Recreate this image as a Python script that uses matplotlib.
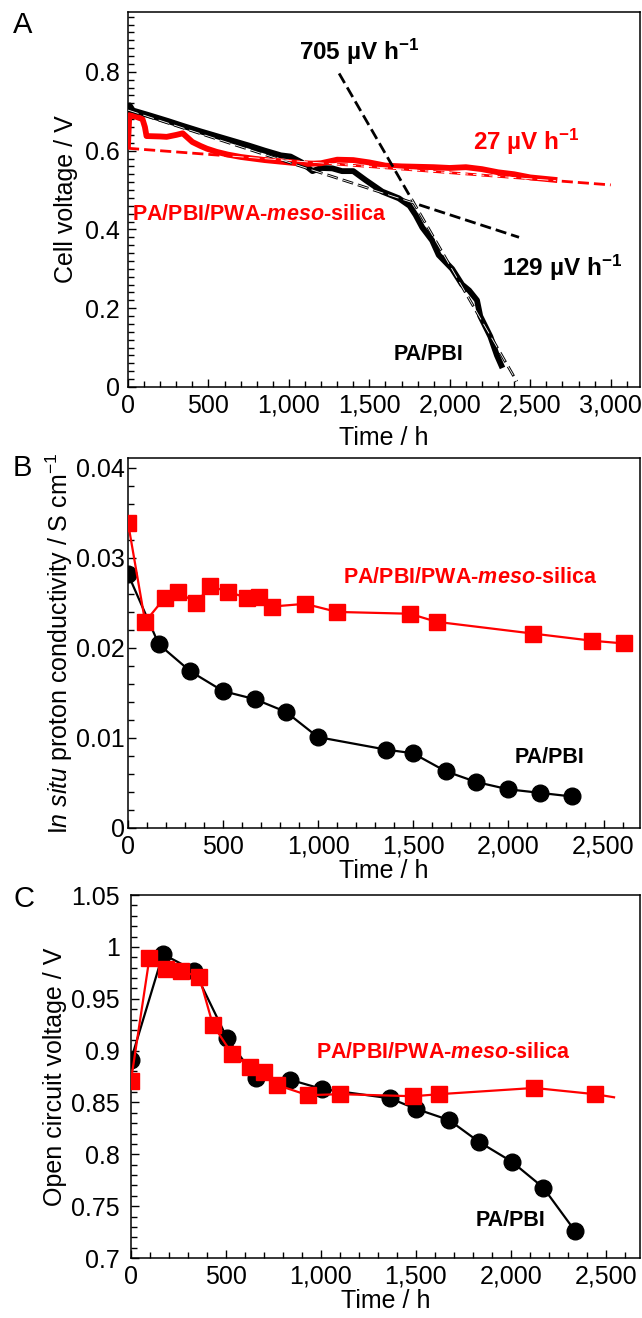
import numpy as np
import matplotlib
matplotlib.use("Agg")
import matplotlib.pyplot as plt
from matplotlib.ticker import MultipleLocator

plt.rcParams['font.family'] = ['Liberation Sans', 'DejaVu Sans']
plt.rcParams['mathtext.fontset'] = 'custom'
plt.rcParams['mathtext.rm'] = 'Liberation Sans'
plt.rcParams['mathtext.it'] = 'Liberation Sans:italic'
plt.rcParams['mathtext.bf'] = 'Liberation Sans:bold'
plt.rcParams['mathtext.bfit'] = 'Liberation Sans:bold:italic'

RED = '#ff0000'

# ---- panel A: cell voltage vs time
pbi_t = [0, 10, 30, 130, 250, 340, 450, 550, 650, 750, 850, 950, 1010, 1080,
         1146, 1200, 1270, 1330, 1400, 1477, 1580, 1683, 1750, 1787, 1829,
         1890, 1931, 2014, 2076, 2120, 2169, 2189, 2252, 2293, 2320]
pbi_v = [0.692, 0.715, 0.702, 0.690, 0.675, 0.663, 0.649, 0.637, 0.625, 0.613,
         0.600, 0.588, 0.585, 0.570, 0.548, 0.556, 0.555, 0.548, 0.548, 0.525,
         0.496, 0.479, 0.460, 0.437, 0.405, 0.372, 0.335, 0.300, 0.260, 0.245,
         0.220, 0.180, 0.128, 0.080, 0.055]

pwa_t = [0, 8, 50, 90, 105, 115, 200, 240, 300, 340, 400, 450, 490, 550, 620,
         700, 850, 1000, 1100, 1200, 1300, 1400, 1500, 1600, 1700, 1800, 1900,
         2000, 2100, 2200, 2300, 2400, 2500, 2600, 2650]
pwa_v = [0.615, 0.690, 0.686, 0.680, 0.660, 0.637, 0.636, 0.635, 0.640, 0.644,
         0.622, 0.612, 0.605, 0.597, 0.590, 0.584, 0.576, 0.570, 0.566, 0.568,
         0.577, 0.576, 0.570, 0.562, 0.560, 0.559, 0.558, 0.556, 0.558, 0.553,
         0.545, 0.540, 0.532, 0.528, 0.526]

# fitted lines (end points)
fit129_t = [0, 2430]
fit129_v = [0.703, 0.380]
fit705_t = [1312, 2416]
fit705_v = [0.796, 0.014]
fit27_t = [0, 3000]
fit27_v = [0.606, 0.513]

# ---- panel B: in situ proton conductivity
cond_pbi_t = [0, 162, 328, 500, 668, 830, 998, 1358, 1498, 1670, 1832, 1998, 2166, 2332]
cond_pbi = [0.0282, 0.0204, 0.0174, 0.0152, 0.0143, 0.0129, 0.0101, 0.0087,
            0.0083, 0.0063, 0.0051, 0.0043, 0.0039, 0.0035]
cond_pwa_t = [0, 90, 194, 263, 360, 431, 528, 623, 690, 759, 931, 1099, 1481,
              1623, 2127, 2440, 2606]
cond_pwa = [0.0339, 0.0229, 0.0256, 0.0262, 0.0250, 0.0269, 0.0262, 0.0256,
            0.0257, 0.0246, 0.0249, 0.0240, 0.0238, 0.0229, 0.0216, 0.0208, 0.0205]

# ---- panel C: open circuit voltage
ocv_pbi_t = [0, 168, 334, 506, 657, 836, 1006, 1364, 1498, 1675, 1832, 2004, 2170, 2338]
ocv_pbi = [0.891, 0.993, 0.977, 0.912, 0.874, 0.872, 0.863, 0.854, 0.844,
           0.833, 0.812, 0.793, 0.768, 0.726]
ocv_pwa_t = [0, 97, 186, 261, 360, 431, 532, 629, 700, 767, 931, 1099, 1487,
             1623, 2123, 2442, 2543]
ocv_pwa = [0.871, 0.989, 0.979, 0.977, 0.971, 0.925, 0.897, 0.884, 0.879,
           0.867, 0.857, 0.858, 0.856, 0.858, 0.864, 0.858, 0.855]

xticks_a = [0, 500, 1000, 1500, 2000, 2500, 3000]
xticks_bc = [0, 500, 1000, 1500, 2000, 2500]
yticks_a = [0, 0.2, 0.4, 0.6, 0.8]
yticks_b = [0, 0.01, 0.02, 0.03, 0.04]
yticks_c = [0.7, 0.75, 0.8, 0.85, 0.9, 0.95, 1.0, 1.05]

FS = 18


def tlabel(v):
    return f"{v:,}"


def ylab(v):
    return f"{v:g}"


def style(ax, xt, yt, xminor, yminor, ypad):
    ax.set_xticks(xt)
    ax.set_xticklabels([tlabel(v) for v in xt])
    ax.set_yticks(yt)
    ax.set_yticklabels([ylab(v) for v in yt])
    ax.xaxis.set_minor_locator(MultipleLocator(xminor))
    ax.yaxis.set_minor_locator(MultipleLocator(yminor))
    ax.tick_params(which='both', direction='in', top=False, right=False,
                   width=1.0, labelsize=FS)
    ax.tick_params(axis='x', which='both', pad=5)
    ax.tick_params(axis='y', which='both', pad=ypad)
    ax.tick_params(which='major', length=6)
    ax.tick_params(which='minor', length=4.5)
    for s in ax.spines.values():
        s.set_linewidth(1.1)


fig = plt.figure(figsize=(6.42, 13.18), dpi=100)

# ---------------- A
ax = fig.add_axes([0.1994, 0.7064, 0.797, 0.2845])
ax.plot(pbi_t, pbi_v, color='black', lw=4.2, solid_joinstyle='round', zorder=2)
ax.plot(pwa_t, pwa_v, color=RED, lw=4.2, solid_joinstyle='round', zorder=3)

dash = (4, 1.8)
ax.plot(fit129_t, fit129_v, color='black', lw=2, dashes=dash, zorder=4)
ax.plot(fit705_t, fit705_v, color='black', lw=2, dashes=dash, zorder=4)
ax.plot(fit27_t, fit27_v, color=RED, lw=2, dashes=dash, zorder=4)
# white core of the fit dashes where they run over the data
for ft, fv, t0, t1 in [(fit129_t, fit129_v, 0, 1780),
                       (fit705_t, fit705_v, 1760, 2416),
                       (fit27_t, fit27_v, 650, 2660)]:
    tt = np.array([t0, t1])
    ax.plot(tt, np.interp(tt, ft, fv), color='white', lw=0.6, dashes=(13.3, 6), zorder=5)

ax.set_xlim(0, 3180)
ax.set_ylim(0, 0.952)
style(ax, xticks_a, yticks_a, 100, 0.02, 6)
ax.set_xlabel("Time / h", fontsize=FS, labelpad=6)
ax.set_ylabel("Cell voltage / V", fontsize=FS, labelpad=5)

bold = dict(fontsize=17.5, fontweight='bold', ha='center', va='center')
ax.text(1436, 0.850, r"705 µV h$^{\mathbf{-1}}$", color='black', **bold)
ax.text(2476, 0.621, r"27 µV h$^{\mathbf{-1}}$", color=RED, **bold)
ax.text(2700, 0.302, r"129 µV h$^{\mathbf{-1}}$", color='black', **bold)
lab = dict(fontsize=15.5, fontweight='bold', ha='center', va='center')
ax.text(817, 0.437, r"PA/PBI/PWA-$\mathbfit{meso}$-silica", color=RED, **lab)
ax.text(1869, 0.082, "PA/PBI", color='black', **lab)
fig.text(0.035, 0.981, "A", fontsize=21, ha='center', va='center')

# ---------------- B
ax = fig.add_axes([0.1994, 0.3718, 0.797, 0.2807])
ax.plot(cond_pbi_t, cond_pbi, color='black', lw=1.6, marker='o', ms=12, zorder=2)
ax.plot(cond_pwa_t, cond_pwa, color=RED, lw=1.6, marker='s', ms=11, zorder=3)
ax.set_xlim(0, 2690)
ax.set_ylim(0, 0.0411)
style(ax, xticks_bc, yticks_b, 100, 0.002, 2)
ax.set_xlabel("Time / h", fontsize=FS, labelpad=0)
ax.set_ylabel(r"I$\mathit{n\ situ}$ proton conductivity / S cm$^{-1}$",
              fontsize=FS, labelpad=1)
ax.text(1797, 0.0278, r"PA/PBI/PWA-$\mathbfit{meso}$-silica", color=RED, **lab)
ax.text(2217, 0.0078, "PA/PBI", color='black', **lab)
fig.text(0.035, 0.645, "B", fontsize=21, ha='center', va='center')

# ---------------- C
ax = fig.add_axes([0.204, 0.0455, 0.793, 0.2754])
ax.plot(ocv_pbi_t, ocv_pbi, color='black', lw=1.6, marker='o', ms=12, zorder=2)
ax.plot(ocv_pwa_t, ocv_pwa, color=RED, lw=1.6, marker='s', ms=11,
        markevery=list(range(len(ocv_pwa_t) - 1)), zorder=3)
ax.set_xlim(0, 2680)
ax.set_ylim(0.7, 1.05)
style(ax, xticks_bc, yticks_c, 100, 0.01, 8)
ax.set_xlabel("Time / h", fontsize=FS, labelpad=0)
ax.set_ylabel("Open circuit voltage / V", fontsize=FS, labelpad=3)
ax.text(1645, 0.898, r"PA/PBI/PWA-$\mathbfit{meso}$-silica", color=RED, **lab)
ax.text(1998, 0.736, "PA/PBI", color='black', **lab)
fig.text(0.038, 0.318, "C", fontsize=21, ha='center', va='center')

fig.savefig("out.png", dpi=100)
